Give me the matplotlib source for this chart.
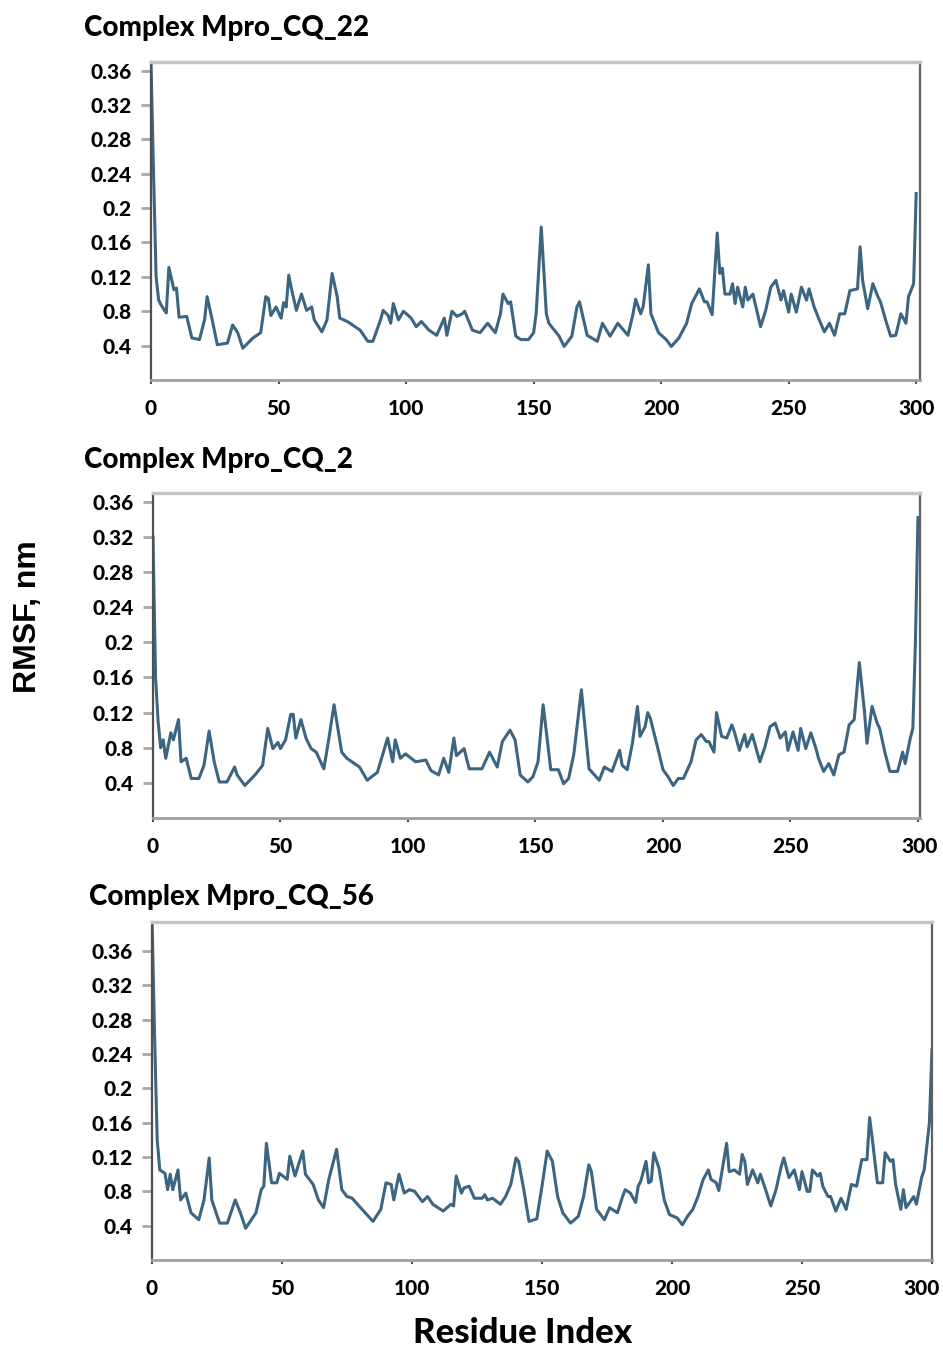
import matplotlib
matplotlib.use("Agg")
import matplotlib.pyplot as plt
from matplotlib.transforms import ScaledTranslation

# RMSF per residue (nm)
res_cq22 = [0, 1, 2, 3, 4, 6, 7, 9, 10, 11, 14, 16, 19, 21, 22, 24, 26, 30, 32, 34,
            36, 40, 43, 45, 46, 47, 49, 51, 52, 53, 54, 55, 57, 59, 61, 63, 64, 67, 69, 71,
            73, 74, 77, 79, 82, 85, 87, 90, 91, 93, 94, 95, 97, 99, 102, 104, 106, 109, 112, 115,
            116, 118, 120, 122, 123, 126, 129, 132, 135, 137, 138, 140, 141, 143, 145, 148, 150, 151, 153, 155,
            156, 160, 162, 165, 167, 168, 171, 175, 177, 180, 183, 187, 189, 190, 192, 193, 195, 196, 199, 202,
            204, 207, 210, 212, 215, 217, 218, 220, 222, 223, 224, 225, 227, 228, 229, 230, 232, 233, 234, 236,
            239, 241, 243, 245, 247, 248, 250, 251, 253, 255, 257, 258, 260, 262, 264, 266, 268, 270, 272, 274,
            277, 278, 279, 281, 283, 285, 286, 288, 290, 292, 294, 296, 297, 299, 300]
rmsf_cq22 = [0.370, 0.240, 0.120, 0.093, 0.087, 0.078, 0.131, 0.105, 0.107, 0.073, 0.074, 0.049, 0.047, 0.070, 0.097, 0.070, 0.041, 0.043, 0.064, 0.055,
             0.037, 0.049, 0.055, 0.097, 0.095, 0.075, 0.085, 0.072, 0.090, 0.085, 0.122, 0.107, 0.081, 0.100, 0.081, 0.085, 0.070, 0.056, 0.070, 0.124,
             0.097, 0.072, 0.068, 0.064, 0.058, 0.045, 0.045, 0.070, 0.081, 0.075, 0.066, 0.089, 0.070, 0.080, 0.072, 0.062, 0.068, 0.058, 0.052, 0.072,
             0.052, 0.080, 0.074, 0.077, 0.080, 0.058, 0.055, 0.066, 0.055, 0.077, 0.100, 0.089, 0.091, 0.051, 0.047, 0.047, 0.055, 0.077, 0.178, 0.077,
             0.066, 0.051, 0.039, 0.051, 0.085, 0.091, 0.052, 0.045, 0.066, 0.051, 0.066, 0.052, 0.077, 0.094, 0.077, 0.086, 0.134, 0.077, 0.055, 0.047,
             0.039, 0.049, 0.066, 0.089, 0.106, 0.091, 0.091, 0.076, 0.171, 0.124, 0.130, 0.100, 0.100, 0.112, 0.089, 0.108, 0.085, 0.108, 0.093, 0.100,
             0.062, 0.081, 0.108, 0.116, 0.093, 0.104, 0.079, 0.100, 0.079, 0.108, 0.093, 0.106, 0.085, 0.070, 0.056, 0.066, 0.052, 0.077, 0.077, 0.104,
             0.106, 0.155, 0.116, 0.083, 0.112, 0.097, 0.091, 0.070, 0.051, 0.052, 0.077, 0.066, 0.097, 0.112, 0.217]

res_cq2 = [0, 1, 2, 3, 4, 5, 7, 8, 10, 11, 13, 15, 18, 20, 22, 24, 26, 29, 32, 33,
           36, 40, 43, 45, 47, 49, 50, 52, 54, 55, 56, 58, 60, 62, 64, 67, 69, 71, 74, 76,
           78, 81, 84, 88, 92, 94, 95, 97, 99, 103, 107, 109, 112, 114, 116, 118, 119, 122, 124, 129,
           132, 135, 137, 140, 142, 144, 147, 149, 151, 153, 156, 159, 161, 163, 165, 168, 171, 175, 177, 180,
           183, 184, 186, 188, 190, 191, 193, 194, 195, 198, 200, 202, 204, 206, 208, 211, 213, 215, 217, 218,
           220, 221, 223, 225, 227, 228, 230, 232, 233, 235, 238, 240, 242, 244, 246, 248, 249, 251, 253, 254,
           256, 258, 260, 261, 263, 265, 267, 269, 271, 273, 275, 277, 279, 280, 282, 284, 285, 287, 289, 292,
           294, 295, 297, 298, 299, 300]
rmsf_cq2 = [0.320, 0.160, 0.110, 0.080, 0.089, 0.068, 0.097, 0.089, 0.112, 0.064, 0.068, 0.045, 0.045, 0.060, 0.099, 0.064, 0.041, 0.041, 0.058, 0.049,
            0.037, 0.049, 0.060, 0.102, 0.079, 0.086, 0.079, 0.089, 0.118, 0.118, 0.091, 0.112, 0.091, 0.079, 0.075, 0.056, 0.091, 0.129, 0.075, 0.068,
            0.064, 0.058, 0.043, 0.052, 0.091, 0.064, 0.089, 0.068, 0.073, 0.064, 0.066, 0.054, 0.049, 0.068, 0.052, 0.091, 0.071, 0.079, 0.056, 0.056,
            0.075, 0.058, 0.087, 0.100, 0.089, 0.049, 0.041, 0.047, 0.064, 0.129, 0.055, 0.055, 0.039, 0.045, 0.072, 0.146, 0.056, 0.043, 0.058, 0.053,
            0.077, 0.060, 0.055, 0.085, 0.127, 0.093, 0.104, 0.120, 0.114, 0.079, 0.055, 0.047, 0.037, 0.045, 0.045, 0.064, 0.089, 0.095, 0.087, 0.087,
            0.075, 0.120, 0.093, 0.091, 0.106, 0.098, 0.077, 0.095, 0.081, 0.095, 0.064, 0.081, 0.104, 0.108, 0.091, 0.098, 0.077, 0.098, 0.077, 0.102,
            0.079, 0.097, 0.079, 0.068, 0.053, 0.062, 0.049, 0.072, 0.075, 0.106, 0.112, 0.177, 0.122, 0.085, 0.127, 0.108, 0.102, 0.075, 0.053, 0.053,
            0.075, 0.062, 0.091, 0.102, 0.200, 0.342]

res_cq56 = [0, 1, 2, 3, 5, 6, 7, 8, 10, 11, 13, 15, 18, 20, 22, 23, 26, 29, 32, 34,
            36, 40, 42, 43, 44, 46, 48, 49, 52, 53, 55, 58, 59, 62, 64, 66, 68, 71, 73, 75,
            77, 79, 82, 85, 88, 90, 92, 93, 95, 97, 99, 101, 104, 106, 108, 112, 115, 116, 117, 119,
            120, 122, 124, 127, 128, 129, 131, 134, 136, 138, 140, 141, 143, 145, 148, 150, 152, 154, 156, 158,
            161, 164, 166, 168, 169, 171, 174, 176, 179, 181, 182, 184, 186, 187, 188, 190, 191, 192, 193, 195,
            197, 199, 202, 204, 206, 208, 210, 212, 214, 215, 217, 218, 221, 222, 224, 226, 227, 228, 229, 231,
            233, 234, 236, 238, 240, 242, 243, 245, 247, 249, 250, 252, 253, 254, 256, 257, 258, 260, 261, 263,
            265, 267, 269, 271, 273, 275, 276, 277, 279, 281, 282, 284, 285, 286, 288, 289, 290, 293, 294, 296,
            297, 299, 300]
rmsf_cq56 = [0.400, 0.260, 0.140, 0.105, 0.101, 0.082, 0.100, 0.082, 0.105, 0.070, 0.078, 0.055, 0.047, 0.070, 0.119, 0.070, 0.043, 0.043, 0.070, 0.055,
             0.037, 0.055, 0.082, 0.086, 0.136, 0.090, 0.090, 0.101, 0.094, 0.121, 0.098, 0.127, 0.100, 0.088, 0.070, 0.061, 0.094, 0.129, 0.082, 0.074,
             0.072, 0.065, 0.055, 0.045, 0.059, 0.090, 0.088, 0.070, 0.100, 0.078, 0.082, 0.080, 0.068, 0.074, 0.065, 0.057, 0.065, 0.063, 0.098, 0.078,
             0.084, 0.086, 0.072, 0.072, 0.076, 0.070, 0.072, 0.065, 0.074, 0.088, 0.119, 0.115, 0.082, 0.045, 0.048, 0.086, 0.127, 0.115, 0.074, 0.055,
             0.043, 0.051, 0.074, 0.111, 0.103, 0.059, 0.047, 0.061, 0.055, 0.074, 0.082, 0.078, 0.067, 0.086, 0.092, 0.115, 0.090, 0.092, 0.125, 0.107,
             0.070, 0.053, 0.049, 0.041, 0.051, 0.059, 0.074, 0.094, 0.105, 0.094, 0.090, 0.081, 0.136, 0.103, 0.105, 0.100, 0.123, 0.115, 0.088, 0.105,
             0.090, 0.100, 0.082, 0.063, 0.082, 0.109, 0.119, 0.096, 0.105, 0.082, 0.103, 0.080, 0.080, 0.105, 0.098, 0.101, 0.086, 0.074, 0.074, 0.057,
             0.072, 0.059, 0.088, 0.086, 0.117, 0.117, 0.166, 0.142, 0.090, 0.090, 0.125, 0.115, 0.117, 0.088, 0.059, 0.082, 0.061, 0.074, 0.065, 0.096,
             0.105, 0.160, 0.245]

titles = ["Complex Mpro_CQ_22", "Complex Mpro_CQ_2", "Complex Mpro_CQ_56"]
ytick_vals = [0.04, 0.08, 0.12, 0.16, 0.20, 0.24, 0.28, 0.32, 0.36]
ytick_text = ["0.4", "0.8", "0.12", "0.16", "0.2", "0.24", "0.28", "0.32", "0.36"]
xtick_vals = [0, 50, 100, 150, 200, 250, 300]

series = [(res_cq22, rmsf_cq22), (res_cq2, rmsf_cq2), (res_cq56, rmsf_cq56)]
# axes rectangles in figure pixels: left, top, right, bottom
boxes = [(151, 62, 920, 380), (153, 493, 920, 818), (152, 922, 932, 1260)]
xmax = [301.5, 300.8, 300.0]
ymax = [0.370, 0.370, 0.394]
title_pos = [(84, 28), (84, 460), (89, 897)]

W, H = 943, 1348
fig = plt.figure(figsize=(W / 100, H / 100), dpi=100)
line_color = "#3b6580"
tick_font = dict(fontfamily="Lato", fontweight="black", fontsize=15)

for i in range(3):
    l, t, r, b = boxes[i]
    ax = fig.add_axes([l / W, 1 - b / H, (r - l) / W, (b - t) / H])
    x, y = series[i]
    ax.plot(x, y, color=line_color, lw=2.2, solid_joinstyle="round")
    ax.set_xlim(0, xmax[i])
    ax.set_ylim(0, ymax[i])
    ax.set_yticks(ytick_vals)
    ax.set_yticklabels(ytick_text, **tick_font)
    ax.set_xticks(xtick_vals)
    ax.set_xticklabels([str(v) for v in xtick_vals], **tick_font)
    ax.tick_params(axis="y", direction="out", length=7, width=2, color="#a8a8a8", pad=7)
    ax.tick_params(axis="x", direction="out", length=3, width=1.5, color="#505050", pad=11)
    ax.spines["left"].set_color("#505050")
    ax.spines["left"].set_linewidth(1.6)
    ax.spines["right"].set_color("#606060")
    ax.spines["right"].set_linewidth(1.6)
    ax.spines["top"].set_color("#c4c4c4")
    ax.spines["top"].set_linewidth(2.5)
    ax.spines["bottom"].set_color("#a0a0a0")
    ax.spines["bottom"].set_linewidth(2)
    # keep the last x label inside the figure
    last = ax.get_xticklabels()[-1]
    shift = {0: 0, 1: 2, 2: -10}[i]
    last.set_transform(last.get_transform() + ScaledTranslation(shift / 100, 0, fig.dpi_scale_trans))
    tx, ty = title_pos[i]
    fig.text(tx / W, 1 - ty / H, titles[i], fontfamily="Lato", fontweight="black",
             fontsize=20, ha="left", va="center")

fig.text(28 / W, 1 - 617 / H, "RMSF, nm", fontfamily="Liberation Sans", fontweight="bold",
         fontsize=23, rotation=90, ha="center", va="center")
fig.text(523 / W, 1 - 1333 / H, "Residue Index", fontfamily="Lato", fontweight="black",
         fontsize=25, ha="center", va="center")

fig.savefig("out.png", dpi=100)
